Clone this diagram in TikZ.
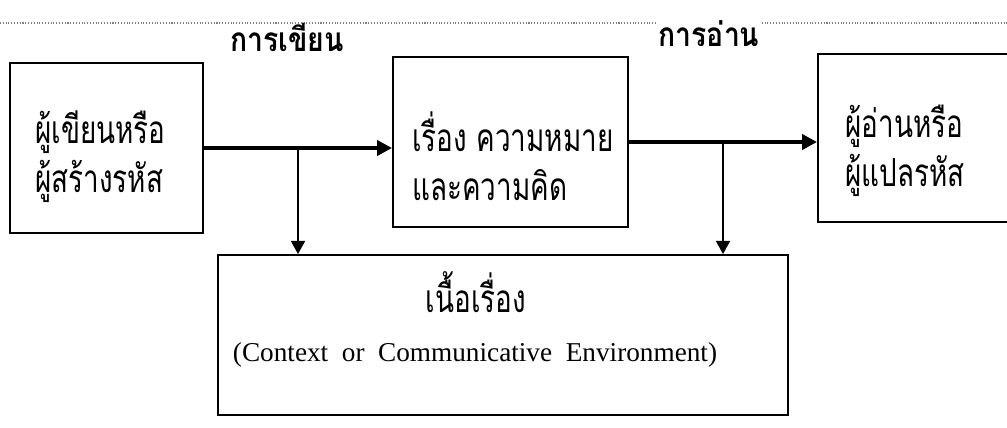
\documentclass[tikz,border=0pt]{standalone}
\usepackage{fontspec}
\setmainfont{Liberation Serif}
\newfontfamily\thaifont[Script=Thai,FakeStretch=0.72]{Loma}
\newfontfamily\thaibold[Script=Thai,FakeStretch=0.85]{Loma Bold}
\usetikzlibrary{arrows.meta,calc}

\tikzset{
  box/.style={draw,line width=1.1pt,inner sep=0pt},
  boxtext/.style={font=\thaifont\fontsize{22}{28}\selectfont,align=left,anchor=west,inner sep=0pt},
  flowlabel/.style={font=\thaibold\fontsize{19}{22}\selectfont,inner sep=1pt},
  flow/.style={line width=2.2pt,-{Triangle[length=8.5pt,width=8.5pt]}},
  drop/.style={line width=1pt,-{Triangle[length=7.5pt,width=8pt]}},
}

\begin{document}
\begin{tikzpicture}[x=0.02cm,y=-0.02cm]
  \useasboundingbox (0,0) rectangle (1007,427);
  \clip (0,0) rectangle (1007,427);
  \draw[gray,densely dotted,line width=0.6pt] (0,23) -- (1007,23);
  % boxes
  \node[box,minimum width=3.86cm,minimum height=3.4cm] (writer) at (106.5,148) {};
  \node[box,minimum width=4.7cm,minimum height=3.4cm] (msg) at (510.5,142) {};
  \node[box,minimum width=3.88cm,minimum height=3.36cm] (reader) at (915,138) {};
  \node[box,minimum width=11.4cm,minimum height=3.2cm] (ctx) at (503,335) {};
  % texts
  \node[boxtext] (writertext) at (35,157) {ผู้เขียนหรือ\\ผู้สร้างรหัส};
  \node[boxtext] (msgtext) at (412,156) {เรื่อง ความหมาย\\และความคิด};
  \node[boxtext] (readertext) at (845,151) {ผู้อ่านหรือ\\ผู้แปลรหัส};
  \node[font=\thaifont\fontsize{22}{28}\selectfont,inner sep=0pt] (ctxthai) at (476,292) {เนื้อเรื่อง};
  \node[font=\fontsize{15.5}{18}\selectfont,inner sep=0pt] (ctxeng) at (475,355) {(Context\ \ or\ \ Communicative\ \ Environment)};
  \node[flowlabel] (writing) at (287,37) {การเขียน};
  \node[flowlabel,fill=white] (reading) at (709,34) {การอ่าน};
  % arrows
  \draw[flow] (writer.east) -- (writer.east -| msg.west);
  \draw[flow] (msg.east) -- (msg.east -| reader.west);
  \coordinate (wsplit) at ($(writer.east)!.5!(writer.east -| msg.west)$);
  \coordinate (rsplit) at ($(msg.east)!.5!(msg.east -| reader.west)$);
  \draw[drop] (wsplit) -- (wsplit |- ctx.north);
  \draw[drop] (rsplit) -- (rsplit |- ctx.north);
\end{tikzpicture}
\end{document}
